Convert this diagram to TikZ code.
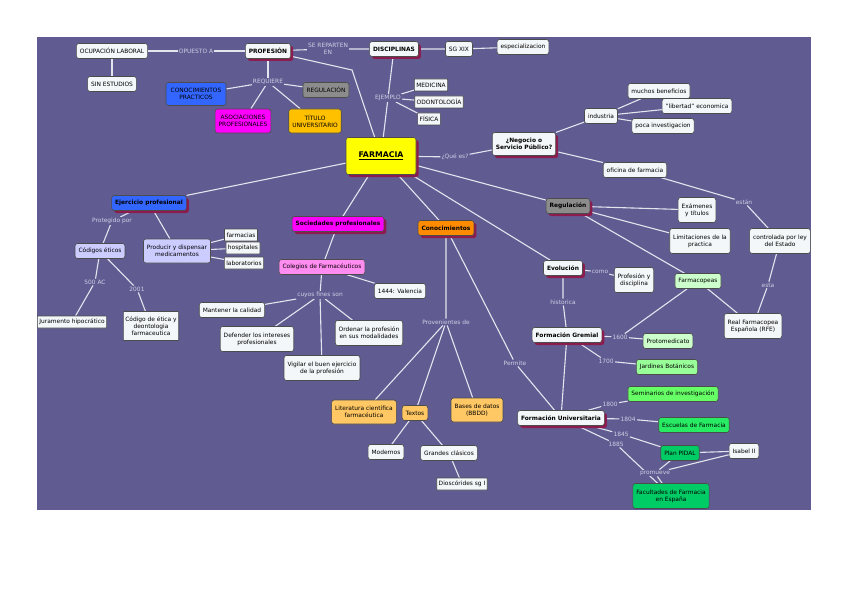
\documentclass[tikz,border=0pt]{standalone}
\usepackage{fontspec}
\setmainfont{DejaVu Sans}
\usetikzlibrary{shadows,backgrounds}

\definecolor{fondo}{RGB}{96,92,146}
\definecolor{enlacecol}{RGB}{228,228,238}
\definecolor{frasecol}{RGB}{208,206,228}
\definecolor{sombra}{RGB}{140,28,78}
\definecolor{caja}{RGB}{244,247,249}
\definecolor{azul}{RGB}{51,102,255}
\definecolor{fucsia}{RGB}{255,0,255}
\definecolor{gris}{RGB}{140,140,140}
\definecolor{oro}{RGB}{255,192,0}
\definecolor{amarillo}{RGB}{255,255,0}
\definecolor{naranja}{RGB}{255,140,0}
\definecolor{naranjaclaro}{RGB}{255,200,100}
\definecolor{lila}{RGB}{204,204,255}
\definecolor{rosa}{RGB}{255,140,240}
\definecolor{verdeA}{RGB}{204,255,204}
\definecolor{verdeB}{RGB}{153,255,153}
\definecolor{verdeC}{RGB}{102,255,102}
\definecolor{verdeD}{RGB}{40,235,100}
\definecolor{verdeE}{RGB}{0,204,102}

\tikzset{
  concepto/.style={draw=black!70, line width=0.6pt, rounded corners=2.5pt,
    fill=caja, font=\fontsize{5.9}{7.2}\selectfont, align=center,
    inner xsep=3.5pt, inner ysep=3.2pt, minimum height=15},
  chico/.style={concepto, rounded corners=0.6pt, inner xsep=2pt,
    inner ysep=2pt, minimum height=12},
  principal/.style={concepto, font=\fontsize{5.9}{7.2}\selectfont\bfseries,
    drop shadow={shadow xshift=2.5pt, shadow yshift=-2.5pt, fill=sombra, opacity=1}},
  frase/.style={text=frasecol, fill=fondo, font=\fontsize{5.9}{7.2}\selectfont,
    align=center, inner sep=1pt},
  enlace/.style={draw=enlacecol, line width=1.1pt}
}

\begin{document}
\begin{tikzpicture}[x=1pt, y=-1pt]
\useasboundingbox (0,0) rectangle (848,599);

% parte superior
\node[concepto] (ocupacion) at (112,51) {OCUPACIÓN LABORAL};
\node[concepto] (sinestudios) at (112,84) {SIN ESTUDIOS};
\node[frase] (opuesto) at (196,51) {OPUESTO A};
\node[principal] (profesion) at (268,51) {PROFESIÓN};
\node[frase] (reparten) at (328,49) {SE REPARTEN\\EN};
\node[principal] (disciplinas) at (394,49) {DISCIPLINAS};
\node[concepto] (sgxix) at (459,49) {SG XIX};
\node[concepto] (especial) at (523,47) {especializacion};
\node[frase] (requiere) at (268,82) {REQUIERE};
\node[concepto, fill=azul, minimum width=60, minimum height=23] (conprac) at (196,94) {CONOCIMIENTOS\\PRACTICOS};
\node[concepto, fill=gris] (regulmay) at (326,90) {REGULACIÓN};
\node[concepto, fill=fucsia, minimum height=24] (asociaciones) at (243,121) {ASOCIACIONES\\PROFESIONALES};
\node[concepto, fill=oro, minimum height=24] (titulo) at (315,121) {TÍTULO\\UNIVERSITARIO};
\node[frase] (ejemplo) at (388,98) {EJEMPLO};
\node[chico] (medicina) at (431,85) {MEDICINA};
\node[chico] (odonto) at (439,102) {ODONTOLOGÍA};
\node[chico] (fisica) at (429,119) {FÍSICA};
\coordinate (codo) at (352,70);

% centro
\node[principal, fill=amarillo, font=\fontsize{7.8}{9}\selectfont\bfseries,
  minimum width=70, minimum height=37] (farmacia) at (381,156) {\underline{FARMACIA}};
\node[frase] (quees) at (455,157) {¿Qué es?};
\node[principal, minimum height=23] (negocio) at (524,144) {¿Negocio o\\Servicio Público?};
\node[concepto] (industria) at (601,116) {industria};
\node[concepto] (beneficios) at (659,91) {muchos beneficios};
\node[concepto] (libertad) at (697,106) {"libertad" economica};
\node[concepto] (poca) at (663,126) {poca investigacion};
\node[concepto] (oficina) at (635,170) {oficina de farmacia};
\node[frase] (estan) at (744,202) {están};
\node[concepto, minimum height=25] (controlada) at (780,241) {controlada por ley\\del Estado};
\node[frase] (esta) at (768,285) {esta};
\node[concepto, minimum height=25] (rfe) at (753,326) {Real Farmacopea\\Española (RFE)};

% regulacion y evolucion
\node[principal, fill=gris] (regulacion) at (568,206) {Regulación};
\node[concepto, minimum height=25] (examenes) at (697,210) {Exámenes\\y títulos};
\node[concepto, minimum height=25] (limitaciones) at (700,241) {Limitaciones de la\\practica};
\node[concepto, fill=verdeA] (farmacopeas) at (698,281) {Farmacopeas};
\node[principal] (evolucion) at (563,268) {Evolución};
\node[frase] (como) at (600,272) {como};
\node[concepto, minimum height=25] (profdisc) at (634,280) {Profesión y\\disciplina};
\node[frase] (historica) at (563,302) {historica};
\node[principal] (gremial) at (567,335) {Formación Gremial};
\node[frase] (f1600) at (620,337) {1600};
\node[concepto, fill=verdeA] (protomed) at (668,341) {Protomedicato};
\node[frase] (f1700) at (606,361) {1700};
\node[concepto, fill=verdeB] (jardines) at (667,367) {Jardines Botánicos};
\node[principal] (universitaria) at (561,418) {Formación Universitaria};
\node[frase] (f1800) at (610,404) {1800};
\node[concepto, fill=verdeC] (seminarios) at (673,394) {Seminarios de investigación};
\node[frase] (f1804) at (628,419) {1804};
\node[concepto, fill=verdeD] (escuelas) at (694,425) {Escuelas de Farmacia};
\node[frase] (f1845) at (621,434) {1845};
\node[concepto, fill=verdeE] (pidal) at (680,453) {Plan PIDAL};
\node[frase] (f1885) at (616,444) {1885};
\node[concepto, fill=verdeE, minimum height=25] (facultades) at (671,496) {Facultades de Farmacia\\en España};
\node[concepto] (isabel) at (744,451) {Isabel II};
\node[frase] (promueve) at (655,473) {promueve};
\node[frase] (permite) at (515,363) {Permite};

% conocimientos
\node[principal, fill=naranja] (conocimientos) at (446,228) {Conocimientos};
\node[frase] (provenientes) at (446,322) {Provenientes de};
\node[concepto, fill=naranjaclaro, minimum height=24] (literatura) at (364,412) {Literatura científica\\farmacéutica};
\node[concepto, fill=naranjaclaro] (textos) at (415,413) {Textos};
\node[concepto, fill=naranjaclaro, minimum height=24] (bbdd) at (477,410) {Bases de datos\\(BBDD)};
\node[concepto] (modernos) at (386,452) {Modernos};
\node[concepto] (clasicos) at (449,453) {Grandes clásicos};
\node[chico] (dioscorides) at (462,484) {Dioscórides sg I};

% ejercicio profesional
\node[principal, fill=azul] (ejercicio) at (149,203) {Ejercicio profesional};
\node[frase] (protegido) at (112,221) {Protegido por};
\node[concepto, fill=lila] (codigos) at (100,251) {Códigos éticos};
\node[frase] (f500) at (95,282) {500 AC};
\node[frase] (f2001) at (137,289) {2001};
\node[chico] (juramento) at (72,322) {Juramento hipocrático};
\node[chico, minimum height=29] (codetica) at (151,326) {Código de ética y\\deontologia\\farmaceutica};
\node[concepto, fill=lila, minimum height=24] (producir) at (177,251) {Producir y dispensar\\medicamentos};
\node[chico] (farmacias) at (241,235) {farmacias};
\node[chico] (hospitales) at (243,248) {hospitales};
\node[chico] (laboratorios) at (244,263) {laboratorios};

% sociedades profesionales
\node[principal, fill=fucsia] (sociedades) at (338,224) {Sociedades profesionales};
\node[concepto, fill=rosa] (colegios) at (322,267) {Colegios de Farmacéuticos};
\node[concepto] (valencia) at (400,291) {1444: Valencia};
\node[frase] (cuyos) at (320,295) {cuyos fines son};
\node[concepto] (mantener) at (232,310) {Mantener la calidad};
\node[concepto, minimum height=25] (defender) at (257,339) {Defender los intereses\\profesionales};
\node[concepto, minimum height=25] (vigilar) at (322,368) {Vigilar el buen ejercicio\\de la profesión};
\node[concepto, minimum height=25] (ordenar) at (369,333) {Ordenar la profesión\\en sus modalidades};

\begin{pgfonlayer}{background}
\fill[fondo] (37,37) rectangle (811,510);
\draw[enlace] (ocupacion) -- (opuesto) -- (profesion);
\draw[enlace] (ocupacion) -- (sinestudios);
\draw[enlace] (profesion) -- (reparten) -- (disciplinas);
\draw[enlace] (disciplinas) -- (sgxix) -- (especial);
\draw[enlace] (profesion) -- (requiere);
\foreach \n in {conprac,regulmay,asociaciones,titulo}
  \draw[enlace] (requiere) -- (\n);
\draw[enlace] (profesion) -- (codo) -- (farmacia);
\draw[enlace] (disciplinas) -- (ejemplo) -- (farmacia);
\foreach \n in {medicina,odonto,fisica}
  \draw[enlace] (ejemplo) -- (\n);
\draw[enlace] (farmacia) -- (quees) -- (negocio);
\draw[enlace] (negocio) -- (industria);
\foreach \n in {beneficios,libertad,poca}
  \draw[enlace] (industria) -- (\n);
\draw[enlace] (negocio) -- (oficina) -- (estan) -- (controlada) -- (esta) -- (rfe);
\draw[enlace] (farmacia) -- (regulacion);
\foreach \n in {examenes,limitaciones,farmacopeas}
  \draw[enlace] (regulacion) -- (\n);
\draw[enlace] (farmacopeas) -- (rfe);
\draw[enlace] (farmacopeas) -- (f1600);
\draw[enlace] (farmacia) -- (evolucion) -- (como) -- (profdisc);
\draw[enlace] (evolucion) -- (historica) -- (gremial) -- (universitaria);
\draw[enlace] (gremial) -- (f1600) -- (protomed);
\draw[enlace] (gremial) -- (f1700) -- (jardines);
\draw[enlace] (universitaria) -- (f1800) -- (seminarios);
\draw[enlace] (universitaria) -- (f1804) -- (escuelas);
\draw[enlace] (universitaria) -- (f1845) -- (pidal);
\draw[enlace] (universitaria) -- (f1885) -- (facultades);
\draw[enlace] (pidal) -- (isabel) -- (promueve) -- (facultades);
\draw[enlace] (pidal) -- (promueve);
\draw[enlace] (farmacia) -- (conocimientos) -- (provenientes);
\draw[enlace] (conocimientos) -- (permite) -- (universitaria);
\foreach \n in {literatura,textos,bbdd}
  \draw[enlace] (provenientes) -- (\n);
\draw[enlace] (textos) -- (modernos);
\draw[enlace] (textos) -- (clasicos) -- (dioscorides);
\draw[enlace] (farmacia) -- (ejercicio) -- (protegido) -- (codigos);
\draw[enlace] (codigos) -- (f500) -- (juramento);
\draw[enlace] (codigos) -- (f2001) -- (codetica);
\draw[enlace] (ejercicio) -- (producir);
\foreach \n in {farmacias,hospitales,laboratorios}
  \draw[enlace] (producir) -- (\n);
\draw[enlace] (farmacia) -- (sociedades) -- (colegios) -- (valencia);
\draw[enlace] (colegios) -- (cuyos);
\foreach \n in {mantener,defender,vigilar,ordenar}
  \draw[enlace] (cuyos) -- (\n);
\end{pgfonlayer}
\end{tikzpicture}
\end{document}
